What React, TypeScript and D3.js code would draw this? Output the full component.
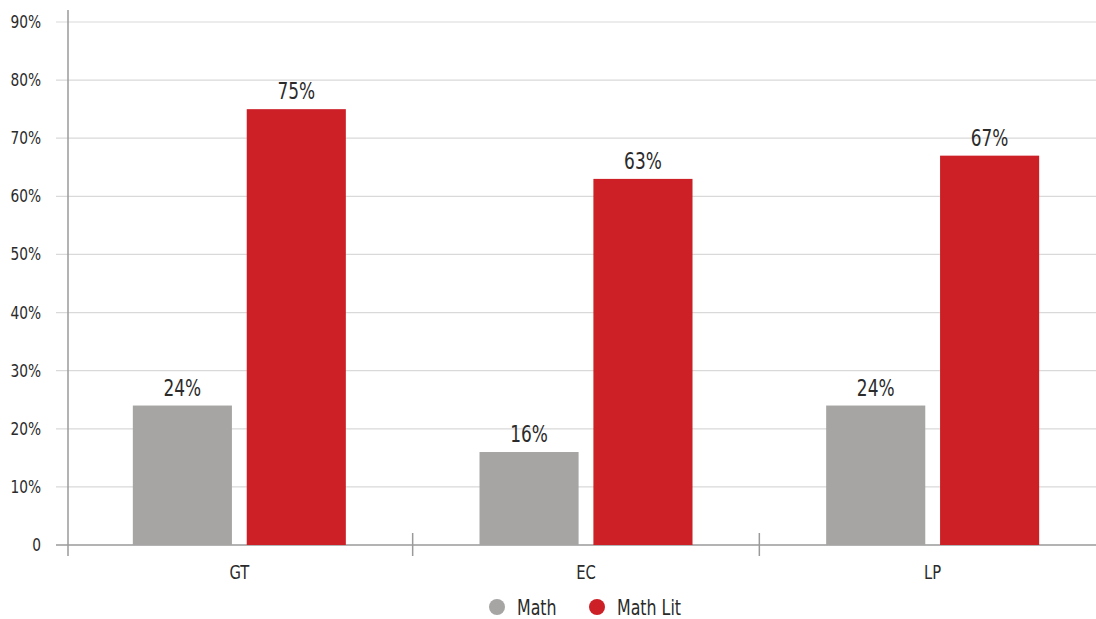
import React from "react";
import * as d3 from "d3";

const categories = ["GT", "EC", "LP"];
const seriesNames = ["Math", "Math Lit"];
const mathValues = [24, 16, 24];
const mathLitValues = [75, 63, 67];
const yTicks = [0, 10, 20, 30, 40, 50, 60, 70, 80, 90];
const colors = ["#a6a5a3", "#cc1f26"];

const W = 1096;
const H = 619;
const FONT = "'Liberation Sans Narrow', 'DejaVu Sans Condensed', 'Roboto', sans-serif";

function NarrowText({ x, y, size, anchor, children, sx = 0.86, dy }: any) {
  return (
    <text
      transform={`translate(${x},${y}) scale(${sx},1)`}
      dy={dy}
      textAnchor={anchor}
      fontSize={size}
      fill="#2b2b2b"
    >
      {children}
    </text>
  );
}

export default function App() {
  const y = d3.scaleLinear().domain([0, 90]).range([545, 22]);
  const x0 = d3.scaleBand<string>().domain(categories).range([66, 1106]).padding(0);
  const groupW = 213;
  const x1 = d3.scaleBand<string>().domain(seriesNames).range([0, groupW]).paddingInner(0.13);
  const values = [mathValues, mathLitValues];
  const tickXs = [68, x0("EC")!, x0("LP")!];

  return (
    <div style={{ position: "fixed", left: 0, top: 0 }}>
      <svg width={W} height={H} style={{ display: "block", fontFamily: FONT }}>
        <rect width={W} height={H} fill="#fff" />
        {yTicks.map((t) => (
          <g key={t}>
            <line x1={56} x2={W} y1={y(t)} y2={y(t)} stroke={t === 0 ? "#9a9a9a" : "#d9d9d9"} strokeWidth={t === 0 ? 1.5 : 1.2} />
            <NarrowText x={41} y={y(t)} dy="0.35em" anchor="end" size={17} sx={0.9}>
              {t === 0 ? "0" : `${t}%`}
            </NarrowText>
          </g>
        ))}
        <line x1={68} x2={68} y1={10} y2={556} stroke="#9a9a9a" strokeWidth={1.5} />
        {tickXs.slice(1).map((b, i) => (
          <line key={i} x1={b} x2={b} y1={533} y2={556} stroke="#9a9a9a" strokeWidth={1.5} />
        ))}
        {categories.map((c, ci) => {
          const gx = x0(c)! + (x0.bandwidth() - groupW) / 2;
          return (
            <g key={c}>
              {seriesNames.map((s, si) => {
                const v = values[si][ci];
                const bx = gx + x1(s)!;
                return (
                  <g key={s}>
                    <rect x={bx} y={y(v)} width={x1.bandwidth()} height={y(0) - y(v)} fill={colors[si]} />
                    <NarrowText x={bx + x1.bandwidth() / 2} y={y(v) - 10} anchor="middle" size={23} sx={0.82}>
                      {`${v}%`}
                    </NarrowText>
                  </g>
                );
              })}
              <NarrowText x={x0(c)! + x0.bandwidth() / 2} y={579} anchor="middle" size={20} sx={0.82}>
                {c}
              </NarrowText>
            </g>
          );
        })}
        {seriesNames.map((s, si) => {
          const lx = [497, 597][si];
          return (
            <g key={s}>
              <circle cx={lx} cy={607} r={8} fill={colors[si]} />
              <NarrowText x={lx + 20} y={607} dy="0.35em" anchor="start" size={22} sx={0.8}>
                {s}
              </NarrowText>
            </g>
          );
        })}
      </svg>
    </div>
  );
}
